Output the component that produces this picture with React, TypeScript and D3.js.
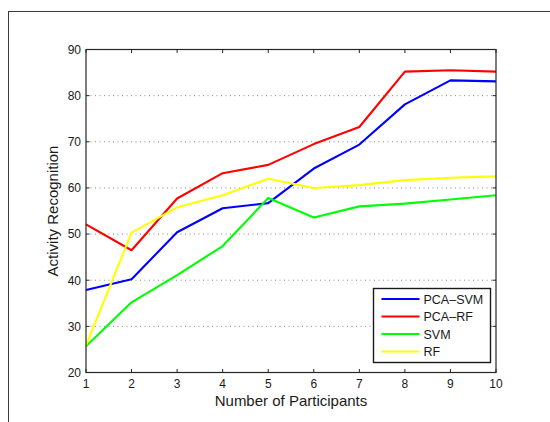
import React, { useEffect, useRef } from 'react';
import * as d3 from 'd3';

// number of participants on the x axis
const participants = [1, 2, 3, 4, 5, 6, 7, 8, 9, 10];

// recognition rates
const pcaSvm = [37.9, 40.2, 50.4, 55.6, 56.7, 64.2, 69.4, 78.1, 83.3, 83.1];
const pcaRf = [52.1, 46.5, 57.7, 63.2, 65.0, 69.5, 73.2, 85.2, 85.5, 85.2];
const svm = [25.7, 35.2, 41.1, 47.4, 57.8, 53.6, 56.0, 56.6, 57.5, 58.4];
const rf = [25.9, 50.3, 55.8, 58.4, 62.0, 60.0, 60.6, 61.7, 62.2, 62.5];

const seriesNames = ['PCA\u2013SVM', 'PCA\u2013RF', 'SVM', 'RF'];
const seriesColors = ['#0000ff', '#ff0000', '#00ff00', '#ffff00'];

const yTicks = [20, 30, 40, 50, 60, 70, 80, 90];
const xTicks = [1, 2, 3, 4, 5, 6, 7, 8, 9, 10];

const App: React.FC = () => {
  const svgRef = useRef<SVGSVGElement>(null);

  useEffect(() => {
    if (!svgRef.current) return;
    const svg = d3.select(svgRef.current);
    svg.selectAll('*').remove();

    const W = 550;
    const H = 422;
    const margin = { top: 49.5, right: 54, bottom: 49.5, left: 86 };
    const width = W - margin.left - margin.right;
    const height = H - margin.top - margin.bottom;
    const font = 'Liberation Sans, Arial, Helvetica, sans-serif';
    const axisColor = '#262626';

    svg.append('rect').attr('width', W).attr('height', H).attr('fill', '#ffffff');

    // outer figure frame (runs off the page on the right and bottom)
    svg.append('rect')
      .attr('x', 8.5).attr('y', 11.5)
      .attr('width', 600).attr('height', 600)
      .attr('fill', 'none')
      .attr('stroke', '#3a3a3a')
      .attr('stroke-width', 1);

    const g = svg.append('g').attr('transform', `translate(${margin.left},${margin.top})`);

    const x = d3.scaleLinear().domain([1, 10]).range([0, width]);
    const y = d3.scaleLinear().domain([20, 90]).range([height, 0]);

    // dotted horizontal grid
    g.selectAll('line.grid')
      .data(yTicks.filter(t => t !== 20 && t !== 90))
      .enter().append('line')
      .attr('class', 'grid')
      .attr('x1', 0).attr('x2', width)
      .attr('y1', d => y(d)).attr('y2', d => y(d))
      .attr('stroke', '#8a8a8a')
      .attr('stroke-width', 1)
      .attr('stroke-dasharray', '1,3.5');

    // series lines
    const allSeries = [pcaSvm, pcaRf, svm, rf];
    const line = d3.line<number>()
      .x((_, i) => x(participants[i]))
      .y(d => y(d));

    // draw order: blue, red, green, yellow
    allSeries.forEach((vals, si) => {
      g.append('path')
        .datum(vals)
        .attr('d', line)
        .attr('fill', 'none')
        .attr('stroke', seriesColors[si])
        .attr('stroke-width', 2.1)
        .attr('stroke-linejoin', 'round');
    });

    // axes box
    g.append('rect')
      .attr('width', width).attr('height', height)
      .attr('fill', 'none')
      .attr('stroke', axisColor)
      .attr('stroke-width', 1.2);

    const tickLen = 3.5;
    xTicks.forEach(t => {
      g.append('line').attr('x1', x(t)).attr('x2', x(t)).attr('y1', height).attr('y2', height - tickLen).attr('stroke', axisColor);
      g.append('line').attr('x1', x(t)).attr('x2', x(t)).attr('y1', 0).attr('y2', tickLen).attr('stroke', axisColor);
      g.append('text')
        .attr('x', x(t)).attr('y', height + 15)
        .attr('text-anchor', 'middle')
        .attr('font-family', font).attr('font-size', 12)
        .attr('fill', '#1a1a1a')
        .text(t);
    });
    yTicks.forEach(t => {
      g.append('line').attr('x1', 0).attr('x2', tickLen).attr('y1', y(t)).attr('y2', y(t)).attr('stroke', axisColor);
      g.append('line').attr('x1', width).attr('x2', width - tickLen).attr('y1', y(t)).attr('y2', y(t)).attr('stroke', axisColor);
      g.append('text')
        .attr('x', -5).attr('y', y(t) + 4.3)
        .attr('text-anchor', 'end')
        .attr('font-family', font).attr('font-size', 12)
        .attr('fill', '#1a1a1a')
        .text(t);
    });

    // axis titles
    g.append('text')
      .attr('x', width / 2).attr('y', height + 33)
      .attr('text-anchor', 'middle')
      .attr('font-family', font).attr('font-size', 15)
      .attr('fill', '#1a1a1a')
      .text('Number of Participants');

    g.append('text')
      .attr('transform', `translate(${58 - margin.left},${height / 2}) rotate(-90)`)
      .attr('text-anchor', 'middle')
      .attr('font-family', font).attr('font-size', 15)
      .attr('fill', '#1a1a1a')
      .text('Activity Recognition');

    // legend
    const lg = svg.append('g').attr('transform', 'translate(373.5,288.5)');
    lg.append('rect')
      .attr('width', 117).attr('height', 74)
      .attr('fill', '#ffffff')
      .attr('stroke', '#1a1a1a')
      .attr('stroke-width', 1.4);
    seriesNames.forEach((name, i) => {
      const yy = 10.5 + i * 17.5;
      lg.append('line')
        .attr('x1', 8).attr('x2', 46)
        .attr('y1', yy).attr('y2', yy)
        .attr('stroke', seriesColors[i])
        .attr('stroke-width', 2.1);
      lg.append('text')
        .attr('x', 50).attr('y', yy + 4.5)
        .attr('font-family', font).attr('font-size', 12.5)
        .attr('fill', '#1a1a1a')
        .text(name);
    });
  }, []);

  return (
    <div style={{ position: 'absolute', left: 0, top: 0 }}>
      <svg ref={svgRef} width={550} height={422} style={{ display: 'block' }} />
    </div>
  );
};

export default App;
